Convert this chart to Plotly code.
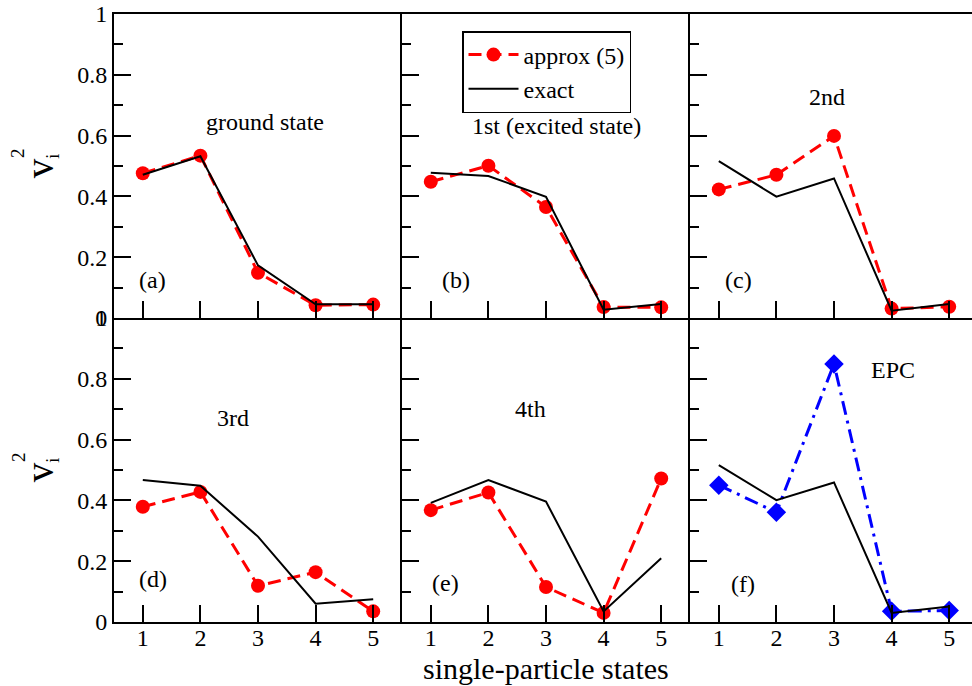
import plotly.graph_objects as go
from plotly.subplots import make_subplots

# single-particle state index
states = [1, 2, 3, 4, 5]

# occupation probabilities v_i^2 for each panel
approx_a = [0.476, 0.534, 0.149, 0.042, 0.044]
exact_a = [0.471, 0.532, 0.173, 0.045, 0.045]
approx_b = [0.448, 0.501, 0.365, 0.036, 0.035]
exact_b = [0.478, 0.467, 0.399, 0.027, 0.046]
approx_c = [0.423, 0.471, 0.599, 0.031, 0.037]
exact_c = [0.516, 0.399, 0.459, 0.024, 0.046]
approx_d = [0.379, 0.428, 0.119, 0.164, 0.035]
exact_d = [0.467, 0.448, 0.281, 0.060, 0.075]
approx_e = [0.368, 0.426, 0.115, 0.030, 0.472]
exact_e = [0.392, 0.467, 0.396, 0.035, 0.210]
epc_f = [0.450, 0.361, 0.849, 0.035, 0.038]
exact_f = [0.516, 0.401, 0.459, 0.030, 0.051]

panel_tags = ["(a)", "(b)", "(c)", "(d)", "(e)", "(f)"]
panel_titles = ["ground state", "1st (excited state)", "2nd", "3rd", "4th", "EPC"]
y_ticks = [0, 0.2, 0.4, 0.6, 0.8, 1]

FONT = "Liberation Serif, Times New Roman, serif"
RED = "#ff0000"
BLUE = "#0000ff"

W, H = 972, 686
L, R, T, B = 114, 0, 14, 64
pw = W - L - R
ph = H - T - B

fig = make_subplots(rows=2, cols=3, horizontal_spacing=0, vertical_spacing=0)

panels = [
    (1, 1, approx_a, exact_a, "approx"),
    (1, 2, approx_b, exact_b, "approx"),
    (1, 3, approx_c, exact_c, "approx"),
    (2, 1, approx_d, exact_d, "approx"),
    (2, 2, approx_e, exact_e, "approx"),
    (2, 3, epc_f, exact_f, "epc"),
]

for i, (r, c, est, ex, kind) in enumerate(panels):
    first = i == 0
    if kind == "approx":
        fig.add_trace(go.Scatter(
            x=states, y=est, mode="lines+markers", name="approx (5)",
            showlegend=first,
            line=dict(color=RED, width=3, dash="13px,7px"),
            marker=dict(symbol="circle", size=14, color=RED),
        ), row=r, col=c)
    else:
        fig.add_trace(go.Scatter(
            x=states, y=est, mode="lines+markers", name="EPC",
            showlegend=False,
            line=dict(color=BLUE, width=3, dash="14px,6px,3px,6px"),
            marker=dict(symbol="diamond", size=15, color=BLUE),
        ), row=r, col=c)
    fig.add_trace(go.Scatter(
        x=states, y=ex, mode="lines", name="exact",
        showlegend=first,
        line=dict(color="black", width=2),
    ), row=r, col=c)

# panel geometry in pixels
col_px = [(114, 402), (402, 690), (690, 972)]
row_px = [(14, 318), (318, 622)]
unit = (402 - 114) / 5.0

for i in range(6):
    r, c = divmod(i, 3)
    x0, x1 = col_px[c]
    y0, y1 = row_px[r]
    xdom = [(x0 - L) / pw, (x1 - L) / pw]
    ydom = [(H - B - y1) / ph, (H - B - y0) / ph]
    xr = [0.5, 0.5 + (x1 - x0) / unit]
    n = "" if i == 0 else str(i + 1)
    # each frame edge is drawn once: left edges by the y axes,
    # the shared horizontal edge and the top edge by the upper x axes
    fig.layout["xaxis" + n].update(
        domain=xdom, range=xr, tickvals=states, ticktext=[str(s) for s in states],
        ticks="inside", ticklen=17, tickwidth=2, tickcolor="black",
        showticklabels=(r == 1), ticklabelstandoff=-7,
        showgrid=False, zeroline=False,
        showline=True, linecolor="black", linewidth=2, mirror=(r == 0),
        tickfont=dict(family=FONT, size=24, color="black"),
    )
    fig.layout["yaxis" + n].update(
        domain=ydom, range=[0, 1], tickvals=y_ticks,
        ticktext=["0", "0.2", "0.4", "0.6", "0.8", "1"],
        ticks="inside", ticklen=17, tickwidth=2, tickcolor="black",
        minor=dict(dtick=0.1, tick0=0, ticks="inside", ticklen=9,
                   tickwidth=2, tickcolor="black"),
        showticklabels=(c == 0), showgrid=False, zeroline=False,
        showline=True, linecolor="black", linewidth=2, mirror=False,
        tickfont=dict(family=FONT, size=24, color="black"),
    )

# y-axis titles on the left column: v with subscript i; the raised 2 is set separately
for n in ["", "4"]:
    fig.layout["yaxis" + n].title = dict(
        text="<span style='font-size:39px'>v</span><sub>i</sub>",
        font=dict(family=FONT, size=26, color="black"), standoff=16,
    )
for yc in [153, 457]:
    fig.add_annotation(x=(18 - L) / pw, y=(H - B - yc) / ph, xref="paper", yref="paper",
                       text="2", textangle=-90, showarrow=False,
                       xanchor="center", yanchor="middle",
                       font=dict(family=FONT, size=19, color="black"))

# panel labels and state names
tag_pos = [(1.16, 0.125), (1.43, 0.125), (1.34, 0.125),
           (1.18, 0.141), (1.26, 0.129), (1.42, 0.125)]
title_pos = [(3.12, 0.645), (3.19, 0.63), (2.87, 0.728),
             (2.56, 0.671), (2.73, 0.70), (4.03, 0.829)]
for i in range(6):
    n = "" if i == 0 else str(i + 1)
    for text, (x, y) in [(panel_tags[i], tag_pos[i]), (panel_titles[i], title_pos[i])]:
        fig.add_annotation(x=x, y=y, xref="x" + n, yref="y" + n, text=text,
                           showarrow=False, xanchor="center", yanchor="middle",
                           font=dict(family=FONT, size=24, color="black"))

fig.add_annotation(x=(546 - L) / pw, y=(H - B - 668) / ph, xref="paper", yref="paper",
                   text="single-particle states", showarrow=False,
                   xanchor="center", yanchor="middle",
                   font=dict(family=FONT, size=30, color="black"))

fig.update_layout(
    width=W, height=H,
    margin=dict(l=L, r=R, t=T, b=B),
    paper_bgcolor="white", plot_bgcolor="white",
    showlegend=True,
    legend=dict(x=(462 - L) / pw, y=(H - B - 31) / ph, xanchor="left", yanchor="top",
                bordercolor="black", borderwidth=1.5, bgcolor="white",
                font=dict(family=FONT, size=24, color="black"),
                tracegroupgap=0, itemwidth=50),
)

fig.write_html("out.html")
